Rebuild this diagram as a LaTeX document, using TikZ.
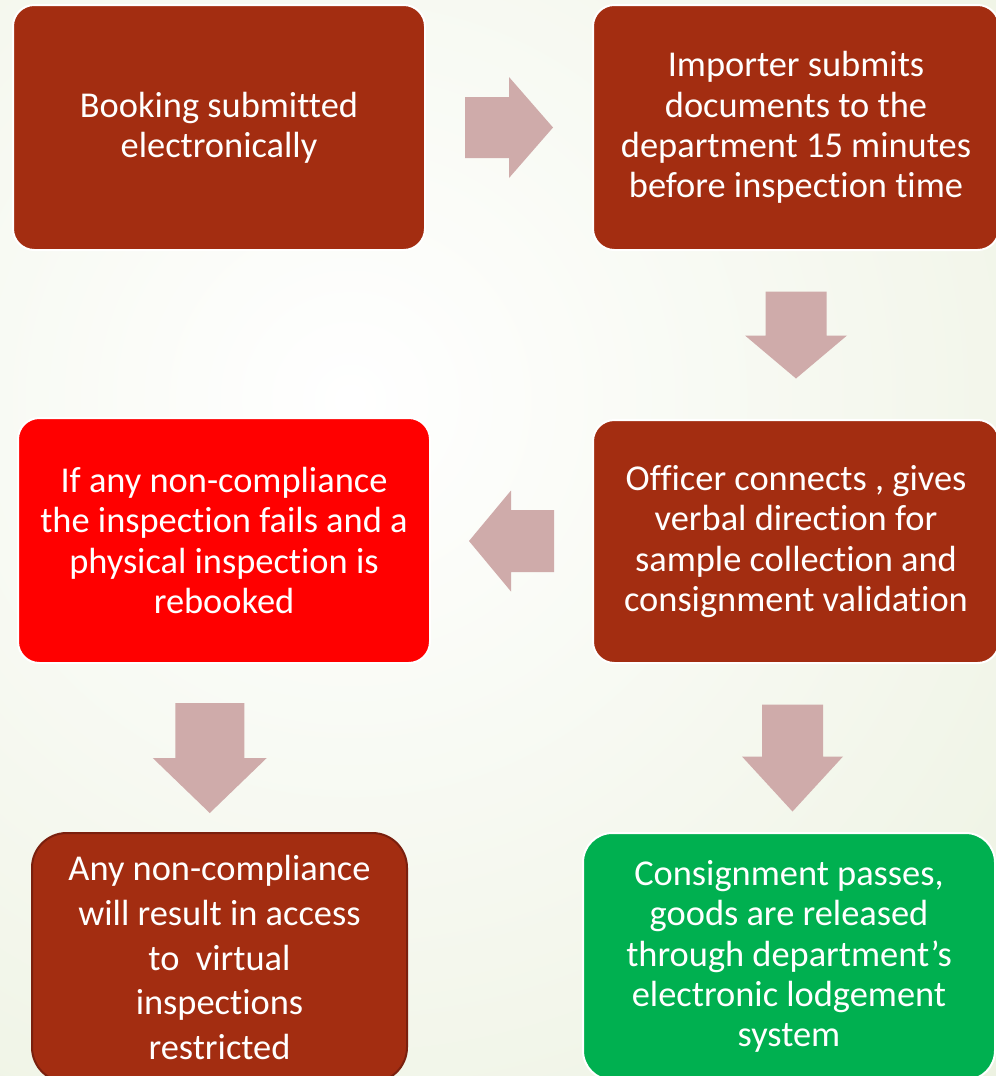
\documentclass[tikz,border=0pt]{standalone}
\usepackage{fontspec}
\setmainfont[Ligatures=NoCommon]{Carlito}
\usetikzlibrary{calc,positioning}
\definecolor{boxbrown}{RGB}{163,45,17}
\definecolor{boxred}{RGB}{255,0,0}
\definecolor{boxgreen}{RGB}{0,176,80}
\definecolor{arrowpink}{RGB}{207,171,170}
\definecolor{bgedge}{RGB}{230,237,214}
\definecolor{rimbrown}{RGB}{122,32,14}
% centre, angle, half length, half body, half head, head length
\newcommand{\blockarrow}[6]{\fill[arrowpink,shift={(#1)},rotate=#2] (-#3,-#4) -- (#3-#6,-#4) -- (#3-#6,-#5) -- (#3,0) -- (#3-#6,#5) -- (#3-#6,#4) -- (-#3,#4) -- cycle;}
\tikzset{stepbox/.style={rectangle,rounded corners=16pt,draw=white,line width=1.5pt,fill=boxbrown,text=white,align=center,inner sep=0pt,
    font=\fontsize{27.3}{30.3}\selectfont,minimum width=309pt,minimum height=183.75pt}}
\begin{document}
\begin{tikzpicture}[x=0.75pt,y=-0.75pt]
              \useasboundingbox (0,0) rectangle (996,1076);
              \clip (0,0) rectangle (996,1076);
              \shade[inner color=white,outer color=bgedge] (-950,-900) rectangle (1650,1700);
              \node[stepbox](bk)at(219,127.5){Booking submitted\\electronically};
              \node[stepbox,minimum width=304.5pt](imp)at(796,127.5){Importer submits\\documents to the\\department 15 minutes\\before inspection time};
              \node[stepbox,minimum width=304.5pt,minimum height=182.25pt](off)at(796,541.5){Officer connects , gives\\verbal direction for\\sample collection and\\consignment validation};
              \node[stepbox,fill=boxred](fail)at(224,540.5){If any non-compliance\\the inspection fails and a\\physical inspection is\\rebooked};
              \node[stepbox,draw=rimbrown,rounded corners=26pt,minimum width=281.25pt,minimum height=186.75pt,
                font=\fontsize{27.3}{33.4}\selectfont](restr)at(219.5,957.5){Any non-compliance\\will result in access\\to~ virtual\\inspections\\restricted};
              \node[stepbox,fill=boxgreen,rounded corners=22pt,minimum height=185.25pt](pass)at(789,956.5){Consignment passes,\\goods are released\\through department’s\\electronic lodgement\\system};
              \blockarrow{$(bk.east)!0.5!(imp.west)$}{0}{44}{30.5}{50.5}{44}
              \blockarrow{$(imp.south)!0.5!(off.north)$}{-90}{43.5}{30.5}{51}{43}
              \blockarrow{$(off.west)!0.5!(fail.east)$}{180}{42.5}{31}{50.5}{42}
              \blockarrow{$(fail.south)!0.5!(restr.north)+(-12,10)$}{-90}{55}{34.5}{57}{55}
              \blockarrow{$(off.south)!0.5!(pass.north)+(0,10)$}{-90}{53.5}{30.5}{50.5}{55}
            \end{tikzpicture}
\end{document}
